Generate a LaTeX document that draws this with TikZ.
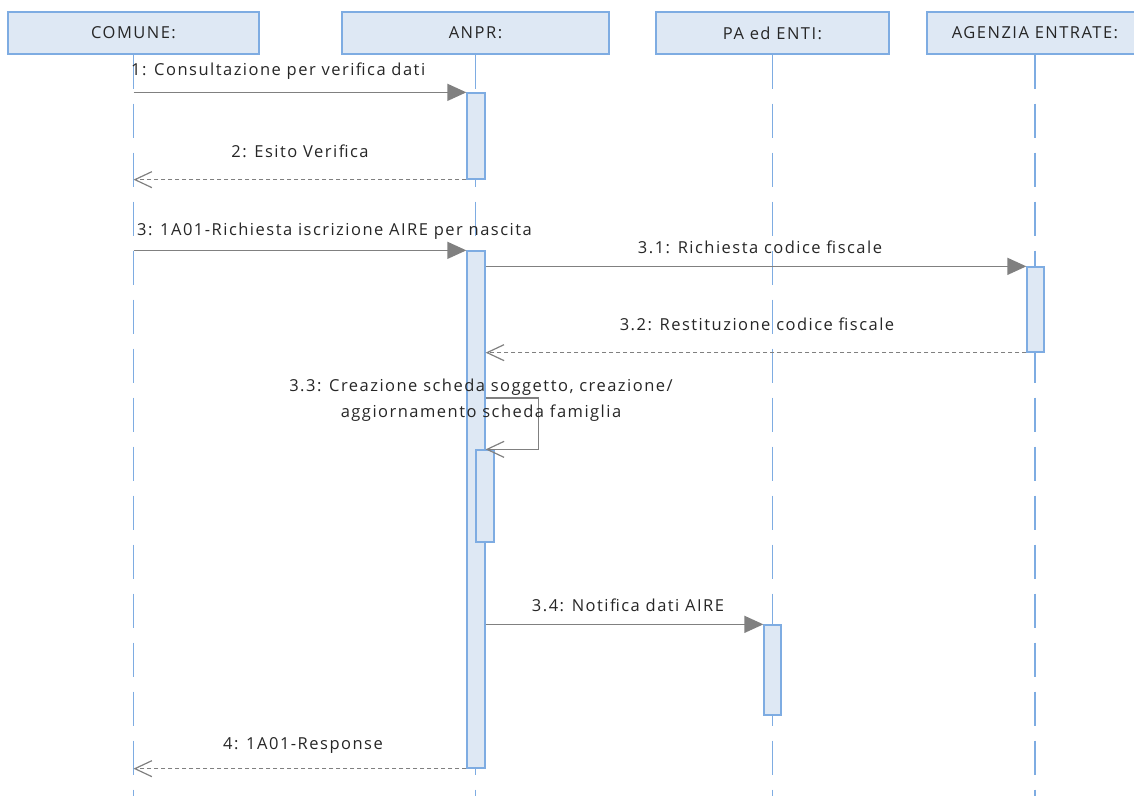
\documentclass[tikz,border=0pt]{standalone}
\usepackage{fontspec}
\setmainfont{Open Sans}[LetterSpace=9]
\usetikzlibrary{arrows.meta}
\definecolor{boxfill}{RGB}{222,232,244}
\definecolor{boxline}{RGB}{126,172,226}
\definecolor{msggray}{RGB}{128,128,128}
\tikzset{
  head/.style={draw=boxline, fill=boxfill, line width=1.3pt, minimum height=42pt,
    inner sep=0pt, font=\fontsize{16.5}{26}\selectfont, text=black!85},
  lifeline/.style={draw=boxline, line width=1.3pt, dash pattern=on 34pt off 15pt},
  act/.style={draw=boxline, fill=boxfill, line width=1.3pt, minimum width=18pt, inner sep=0pt},
  call/.style={draw=msggray, line width=1.4pt, -{Triangle[length=19pt,width=17pt]}},
  reply/.style={draw=msggray, line width=1.2pt, dash pattern=on 4pt off 3pt,
    -{Straight Barb[length=17pt,width=16pt,line width=1.2pt]}},
  lbl/.style={font=\fontsize{16.5}{26}\selectfont, inner sep=0pt, text=black!85}
}
\begin{document}
\begin{tikzpicture}[x=1pt, y=-1pt]
        \useasboundingbox (0,0) rectangle (1134,796);

        \node [head, minimum width=251pt] (comune) at (133.5,33) {COMUNE:};
        \node [head, minimum width=267pt] (anpr) at (475.5,33) {ANPR:};
        \node [head, minimum width=233pt] (pa) at (772.5,33) {PA ed ENTI:};
        \node [head, minimum width=216pt] (agenzia) at (1035,33) {AGENZIA ENTRATE:};

        \draw [lifeline] (comune.south) -- (comune.south |- 0,796);
        \draw [lifeline] (anpr.south) -- (anpr.south |- 0,796);
        \draw [lifeline] (pa.south) -- (pa.south |- 0,796);
        \draw [lifeline] (agenzia.south) -- (agenzia.south |- 0,796);

        \node [act, minimum height=86pt] (act1) at (476,136) {};
        \node [act, minimum height=517pt] (act2) at (476,509.5) {};
        \node [act, minimum width=17pt, minimum height=85pt] (act3) at (1035.5,309.5) {};
        \node [act, minimum height=92pt] (act4) at (485,496) {};
        \node [act, minimum width=17pt, minimum height=90pt] (act5) at (772.5,670) {};

        \draw [call] (comune.south |- act1.north) -- (act1.north west);
        \node [lbl, anchor=west] (m1) at (131,71) {1: Consultazione per verifica dati};

        \draw [reply] (act1.south west) -- (comune.south |- act1.south);
        \node [lbl] (m2) at (300,151) {2: Esito Verifica};

        \draw [call] (comune.south |- act2.north) -- (act2.north west);
        \node [lbl, anchor=west] (m3) at (137,231) {3: 1A01-Richiesta iscrizione AIRE per nascita};

        \draw [call] (act2.east |- act3.north) -- (act3.north west);
        \node [lbl] (m31) at (760,247) {3.1: Richiesta codice fiscale};

        \draw [reply] (act3.south west) -- (act2.east |- act3.south);
        \node [lbl] (m32) at (757,324) {3.2: Restituzione codice fiscale};

        \draw [reply, dash pattern=] (act2.east |- 0,398) -- ++(53,0) |- (act2.east |- act4.north);
        \node [lbl, align=center] (m33) at (481,400)
          {3.3: Creazione scheda soggetto, creazione/\\aggiornamento scheda famiglia};

        \draw [call] (act2.east |- act5.north) -- (act5.north west);
        \node [lbl] (m34) at (628,605) {3.4: Notifica dati AIRE};

        \draw [reply] (act2.south west) -- (comune.south |- act2.south);
        \node [lbl] (m4) at (303,745) {4: 1A01-Response};
      \end{tikzpicture}
\end{document}
